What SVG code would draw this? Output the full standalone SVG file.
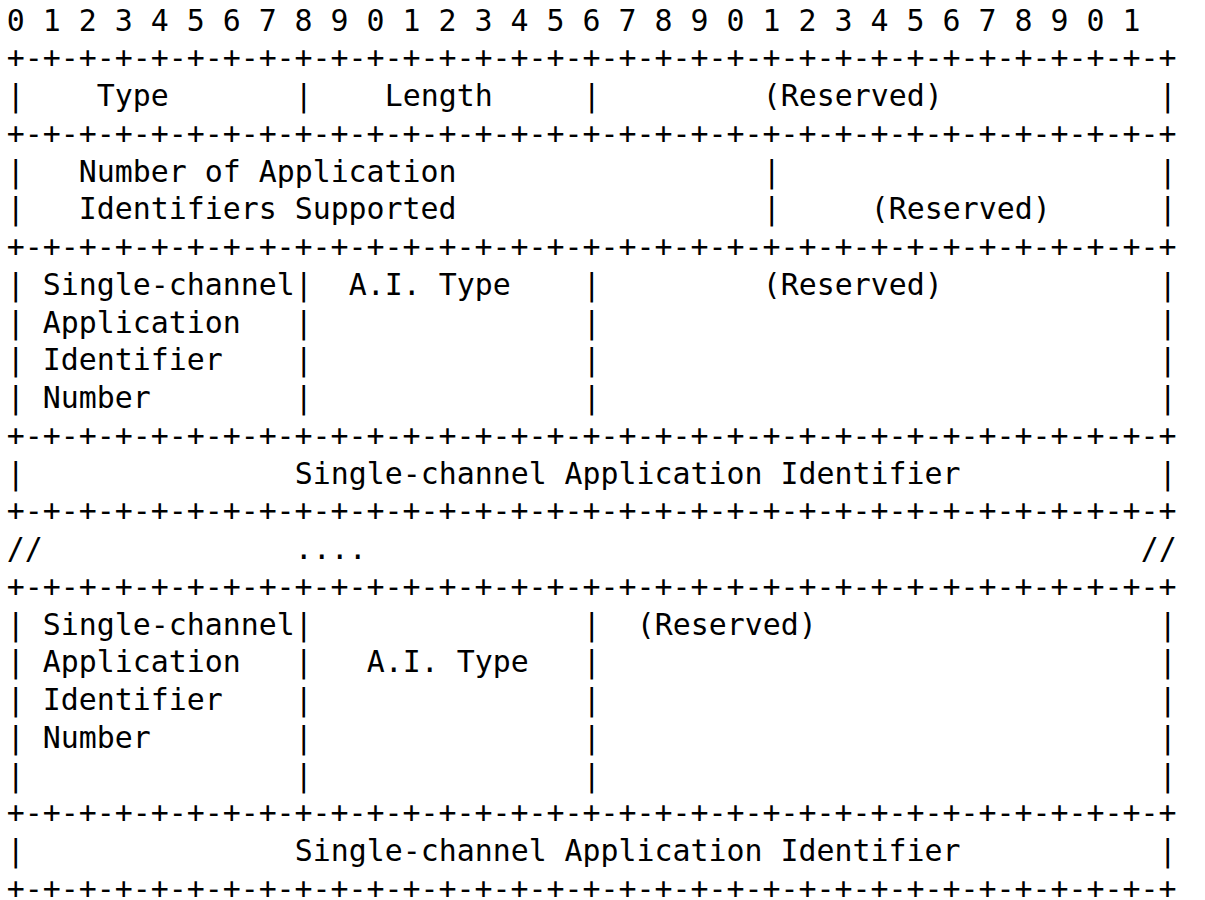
<svg xmlns="http://www.w3.org/2000/svg" width="1205" height="900" viewBox="0 0 1205 900">
  <style>
    text { font-family: "DejaVu Sans Mono", "Liberation Mono", monospace; font-size: 29.9px; fill: #000; white-space: pre; }
  </style>
  <rect width="1205" height="900" fill="#fff"/>

  <!-- bit ruler: one column = 18px, column c starts at x = 6.7 + 18c -->
  <g id="ruler">
    <text x="6.7" y="30.5" xml:space="preserve">0 1 2 3 4 5 6 7 8 9 0 1 2 3 4 5 6 7 8 9 0 1 2 3 4 5 6 7 8 9 0 1</text>
  </g>

  <!-- horizontal separators between words -->
  <g id="separators">
    <text x="6.7" y="68.25">+-+-+-+-+-+-+-+-+-+-+-+-+-+-+-+-+-+-+-+-+-+-+-+-+-+-+-+-+-+-+-+-+</text>
    <text x="6.7" y="143.75">+-+-+-+-+-+-+-+-+-+-+-+-+-+-+-+-+-+-+-+-+-+-+-+-+-+-+-+-+-+-+-+-+</text>
    <text x="6.7" y="257">+-+-+-+-+-+-+-+-+-+-+-+-+-+-+-+-+-+-+-+-+-+-+-+-+-+-+-+-+-+-+-+-+</text>
    <text x="6.7" y="445.75">+-+-+-+-+-+-+-+-+-+-+-+-+-+-+-+-+-+-+-+-+-+-+-+-+-+-+-+-+-+-+-+-+</text>
    <text x="6.7" y="521.25">+-+-+-+-+-+-+-+-+-+-+-+-+-+-+-+-+-+-+-+-+-+-+-+-+-+-+-+-+-+-+-+-+</text>
    <text x="6.7" y="596.75">+-+-+-+-+-+-+-+-+-+-+-+-+-+-+-+-+-+-+-+-+-+-+-+-+-+-+-+-+-+-+-+-+</text>
    <text x="6.7" y="823.25">+-+-+-+-+-+-+-+-+-+-+-+-+-+-+-+-+-+-+-+-+-+-+-+-+-+-+-+-+-+-+-+-+</text>
    <text x="6.7" y="898.75">+-+-+-+-+-+-+-+-+-+-+-+-+-+-+-+-+-+-+-+-+-+-+-+-+-+-+-+-+-+-+-+-+</text>
  </g>

  <!-- word 1: Type / Length / Reserved -->
  <g id="word-type-length">
    <text y="106"><tspan x="6.7">|</tspan><tspan x="96.7">Type</tspan><tspan x="294.7">|</tspan><tspan x="384.7">Length</tspan><tspan x="582.7">|</tspan><tspan x="762.7">(Reserved)</tspan><tspan x="1158.7">|</tspan></text>
  </g>

  <!-- word 2: count of identifiers -->
  <g id="word-count">
    <text y="181.5"><tspan x="6.7">|</tspan><tspan x="78.7">Number of Application</tspan><tspan x="762.7">|</tspan><tspan x="1158.7">|</tspan></text>
    <text y="219.25"><tspan x="6.7">|</tspan><tspan x="78.7">Identifiers Supported</tspan><tspan x="762.7">|</tspan><tspan x="870.7">(Reserved)</tspan><tspan x="1158.7">|</tspan></text>
  </g>

  <!-- first identifier header -->
  <g id="entry-1-header">
    <text y="294.75"><tspan x="6.7">|</tspan><tspan x="42.7">Single-channel|</tspan><tspan x="348.7">A.I. Type</tspan><tspan x="582.7">|</tspan><tspan x="762.7">(Reserved)</tspan><tspan x="1158.7">|</tspan></text>
    <text y="332.5"><tspan x="6.7">|</tspan><tspan x="42.7">Application</tspan><tspan x="294.7">|</tspan><tspan x="582.7">|</tspan><tspan x="1158.7">|</tspan></text>
    <text y="370.25"><tspan x="6.7">|</tspan><tspan x="42.7">Identifier</tspan><tspan x="294.7">|</tspan><tspan x="582.7">|</tspan><tspan x="1158.7">|</tspan></text>
    <text y="408"><tspan x="6.7">|</tspan><tspan x="42.7">Number</tspan><tspan x="294.7">|</tspan><tspan x="582.7">|</tspan><tspan x="1158.7">|</tspan></text>
  </g>

  <!-- first identifier value -->
  <g id="entry-1-value">
    <text y="483.5"><tspan x="6.7">|</tspan><tspan x="294.7">Single-channel Application Identifier</tspan><tspan x="1158.7">|</tspan></text>
  </g>

  <!-- elided entries -->
  <g id="ellipsis">
    <text y="559"><tspan x="6.7">//</tspan><tspan x="294.7">....</tspan><tspan x="1140.7">//</tspan></text>
  </g>

  <!-- last identifier header -->
  <g id="entry-n-header">
    <text y="634.5"><tspan x="6.7">|</tspan><tspan x="42.7">Single-channel|</tspan><tspan x="582.7">|</tspan><tspan x="636.7">(Reserved)</tspan><tspan x="1158.7">|</tspan></text>
    <text y="672.25"><tspan x="6.7">|</tspan><tspan x="42.7">Application</tspan><tspan x="294.7">|</tspan><tspan x="366.7">A.I. Type</tspan><tspan x="582.7">|</tspan><tspan x="1158.7">|</tspan></text>
    <text y="710"><tspan x="6.7">|</tspan><tspan x="42.7">Identifier</tspan><tspan x="294.7">|</tspan><tspan x="582.7">|</tspan><tspan x="1158.7">|</tspan></text>
    <text y="747.75"><tspan x="6.7">|</tspan><tspan x="42.7">Number</tspan><tspan x="294.7">|</tspan><tspan x="582.7">|</tspan><tspan x="1158.7">|</tspan></text>
    <text y="785.5"><tspan x="6.7">|</tspan><tspan x="294.7">|</tspan><tspan x="582.7">|</tspan><tspan x="1158.7">|</tspan></text>
  </g>

  <!-- last identifier value -->
  <g id="entry-n-value">
    <text y="861"><tspan x="6.7">|</tspan><tspan x="294.7">Single-channel Application Identifier</tspan><tspan x="1158.7">|</tspan></text>
  </g>
</svg>
